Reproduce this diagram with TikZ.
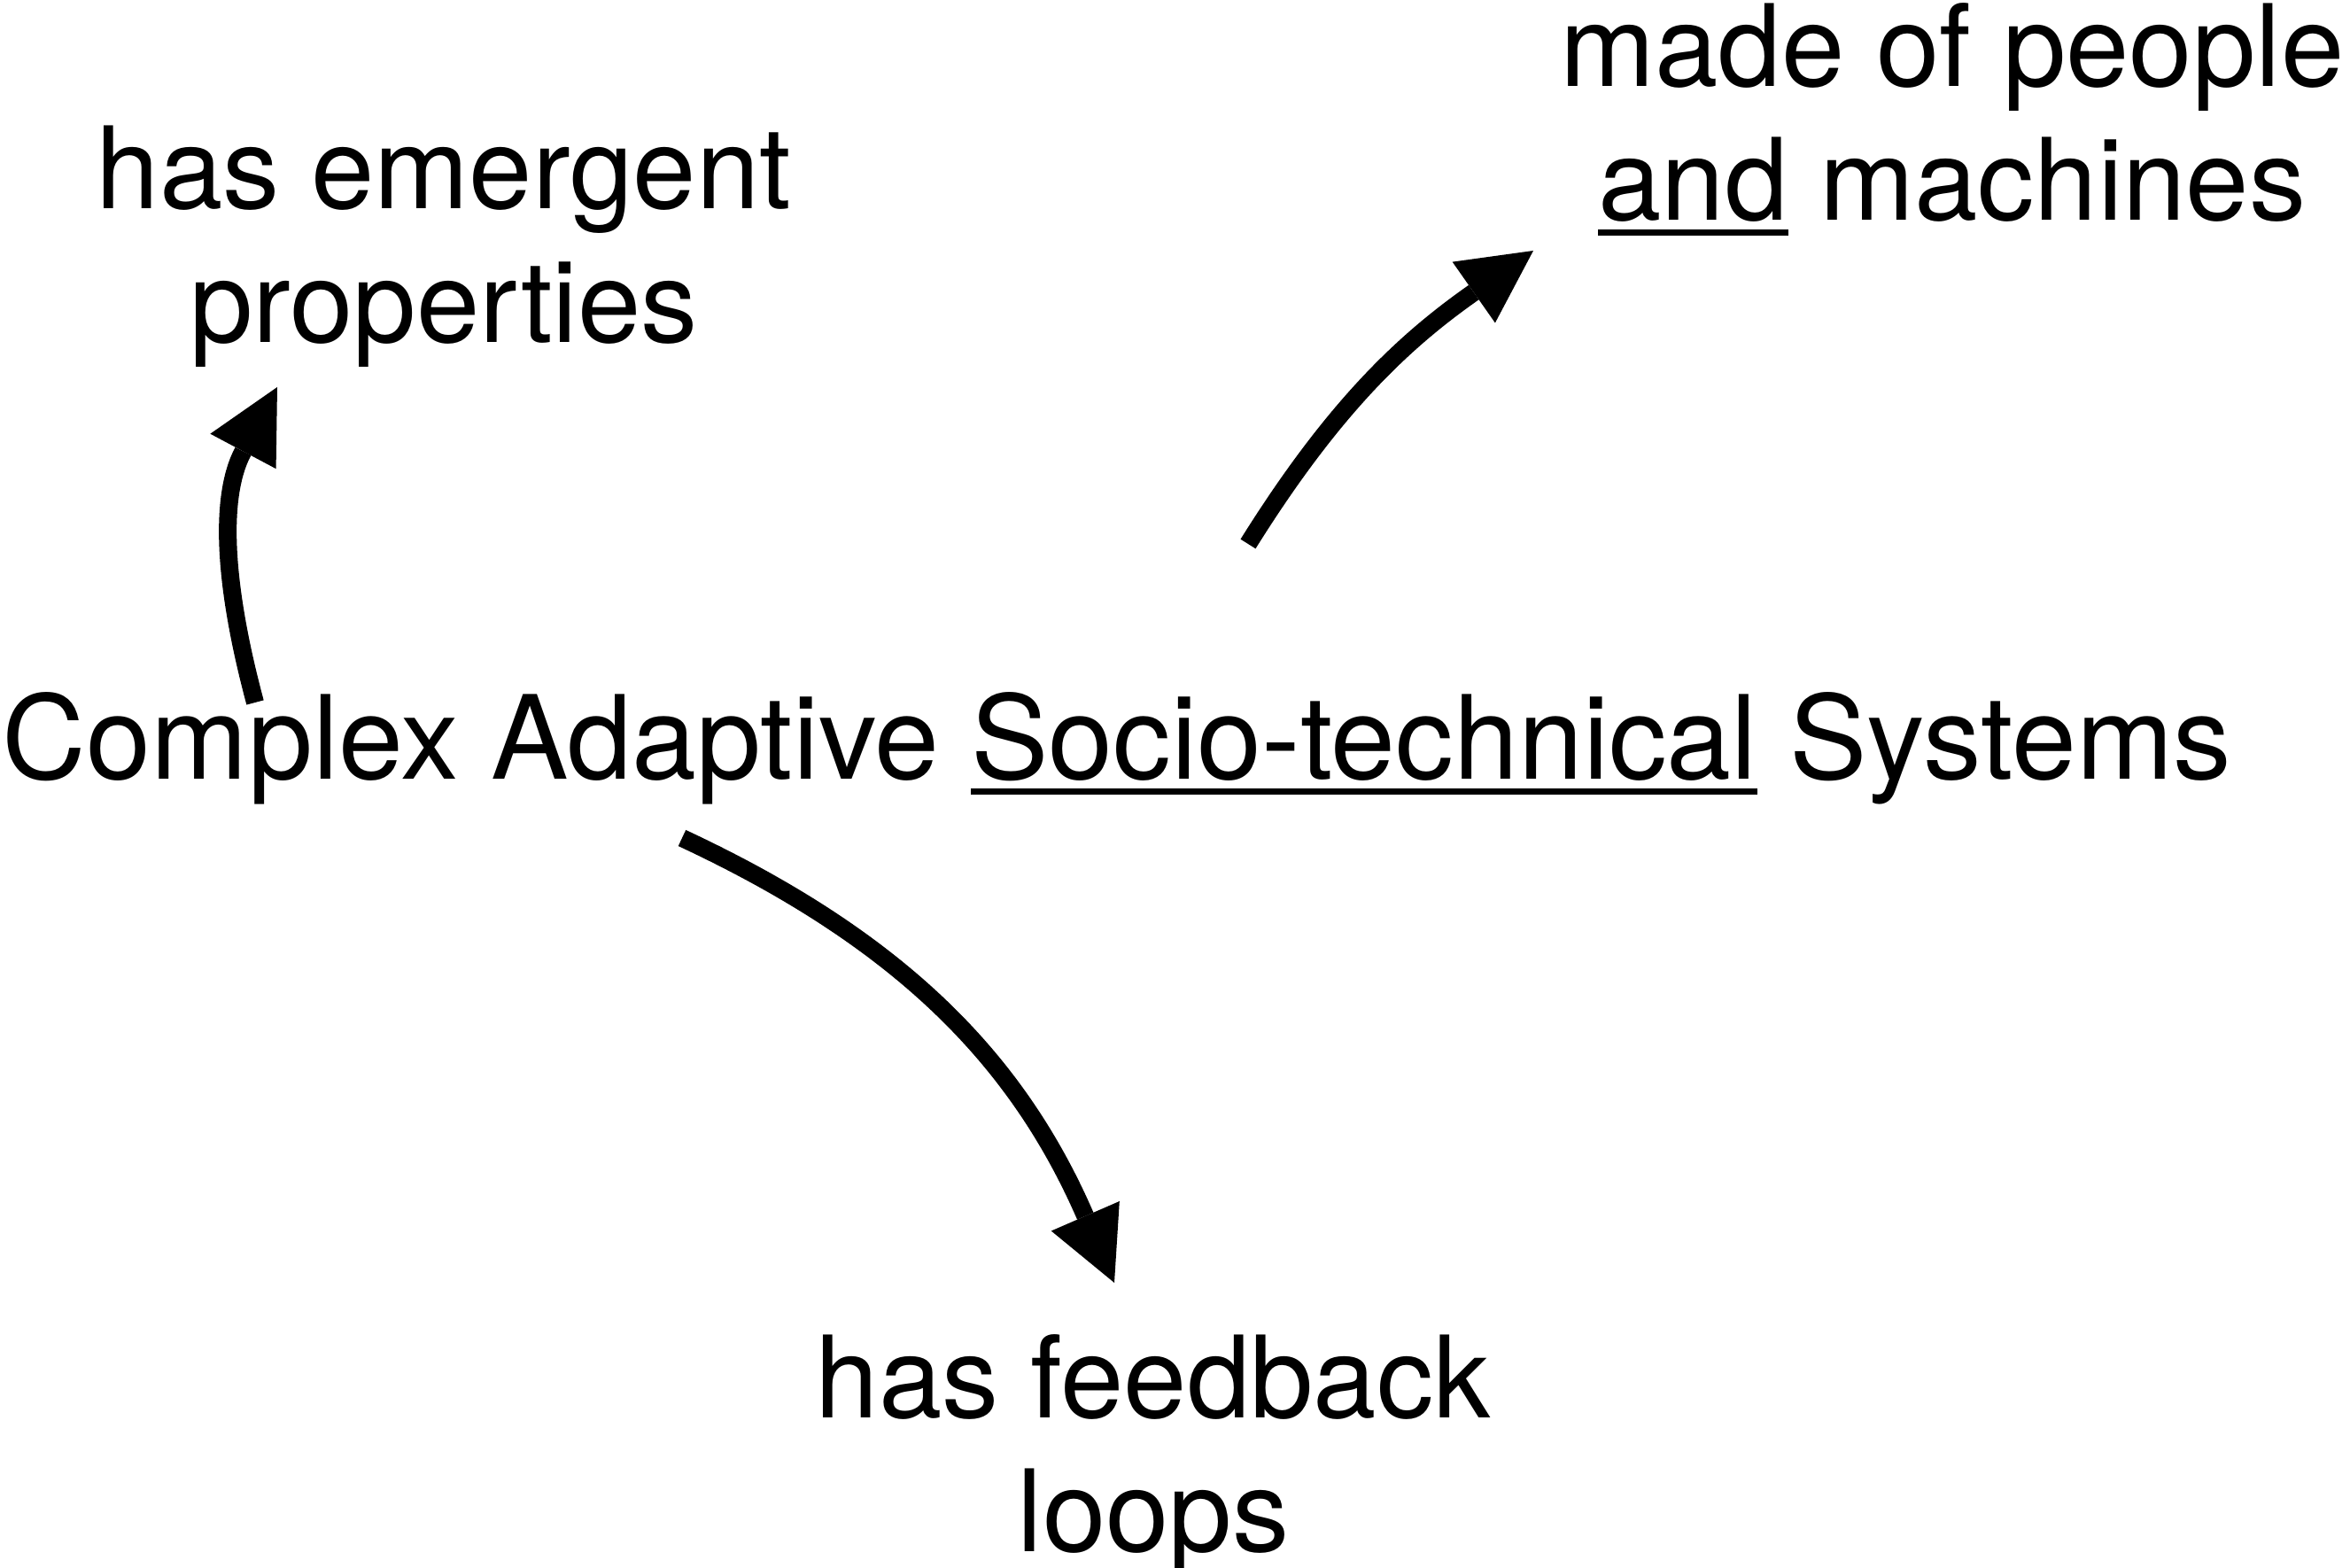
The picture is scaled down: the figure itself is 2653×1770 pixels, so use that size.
\documentclass[tikz,border=0pt]{standalone}
\usepackage{fontspec}
\setmainfont{TeX Gyre Heros}
\usetikzlibrary{arrows.meta}

% underline a word with a rule a little below the baseline
\newsavebox{\ulbox}
\newcommand{\ulword}[1]{\sbox{\ulbox}{#1}\rlap{\rule[-0.13em]{\wd\ulbox}{0.055em}}\usebox{\ulbox}}

\tikzset{
  label text/.style={inner sep=0pt, outer sep=0pt, align=center, anchor=base,
    font=\fontsize{36.5pt}{43pt}\selectfont},
  title text/.style={label text, font=\fontsize{37.3pt}{44pt}\selectfont},
  link/.style={line width=0.2cm, line cap=butt,
    -{Triangle[length=0.82cm, width=0.84cm, line width=0pt]}}
}

\begin{document}
\begin{tikzpicture}[x=0.01cm, y=0.01cm]
  \useasboundingbox (0,0) rectangle (2653,1770);

  % texts (the base anchor of a two-line node sits on its last line)
  \node[title text] (cas) at (1261,890)
    {Complex Adaptive \ulword{Socio-technical} Systems};
  \node[label text] (emergent) at (501,1383) {has emergent\\properties};
  \node[label text] (people) at (2204,1521) {made of people\\\ulword{and} machines};
  \node[label text] (feedback) at (1302,18) {has feedback\\loops};

  % arrow ends
  \coordinate (e0) at (288,977);
  \coordinate (e1) at (313,1333);
  \coordinate (p0) at (1409,1156);
  \coordinate (p1) at (1731,1487);
  \coordinate (f0) at (770,824);
  \coordinate (f1) at (1258,322);

  % curved arrows
  \draw[link] (e0) to[out=105, in=242] (e1);
  \draw[link] (p0) to[out=58, in=215] (p1);
  \draw[link] (f0) to[out=-25, in=113.5] (f1);
\end{tikzpicture}
\end{document}
